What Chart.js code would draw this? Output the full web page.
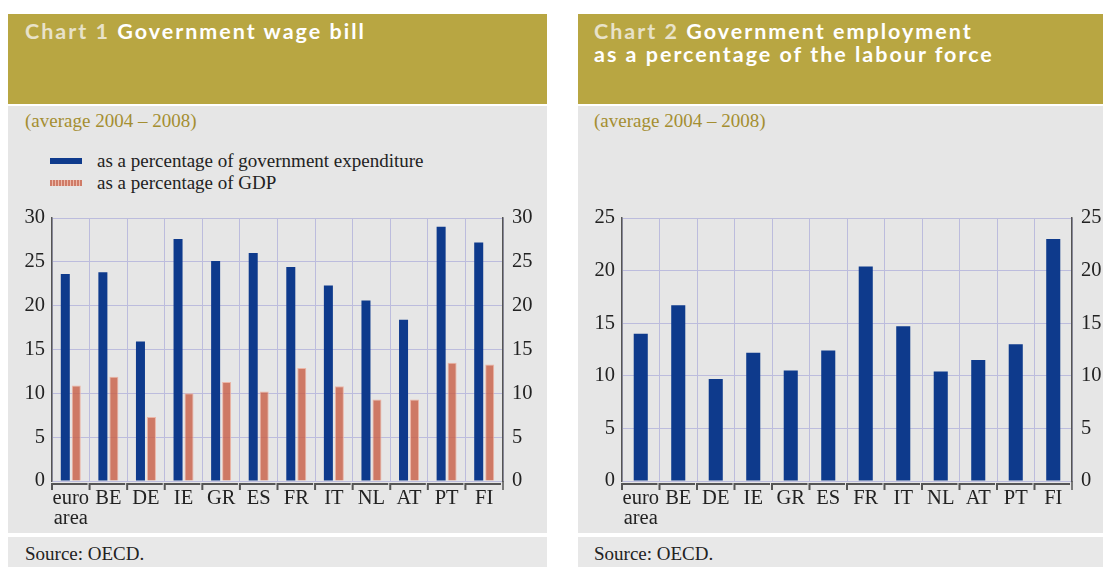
<!DOCTYPE html>
<html>
<head>
<meta charset="utf-8">
<script src="https://cdn.jsdelivr.net/npm/chart.js@4"></script>
<style>
  body { margin: 0; width: 1103px; height: 567px; background: #fff; position: relative; overflow: hidden; }
  .box { position: absolute; }
  .head { background: #b8a642; }
  .body { background: #e6e6e6; }
  .src { background: #e8e8e8; }
  .title { position: absolute; font-family: Lato, sans-serif; font-weight: bold; font-size: 21.5px;
           line-height: 23px; letter-spacing: 2px; color: #fff; white-space: nowrap; }
  .title .num { color: #e8e2c9; }
  .serif { position: absolute; font-family: "Liberation Serif", serif; font-size: 19px; line-height: 22px;
           color: #222; white-space: nowrap; }
  .sub { color: #a48e31; }
  .swatch { position: absolute; width: 32px; height: 6px; }
  canvas { position: absolute; }
</style>
</head>
<body>
<!-- chart 1 panel -->
<div class="box head" style="left:8px;top:14px;width:539px;height:90px"></div>
<div class="box body" style="left:8px;top:106px;width:539px;height:427px"></div>
<div class="box src" style="left:8px;top:537px;width:539px;height:30px"></div>
<div class="title" style="left:25px;top:20px"><span class="num">Chart 1</span> Government wage bill</div>
<div class="serif sub" style="left:25px;top:110px">(average 2004 – 2008)</div>
<div class="swatch" style="left:50px;top:158px;background:#0e3a8c"></div>
<div class="serif" style="left:97px;top:150px">as a percentage of government expenditure</div>
<div class="swatch" style="left:50px;top:180px;background:repeating-linear-gradient(90deg,#cf7b67 0 2px,#ecb9aa 2px 3px)"></div>
<div class="serif" style="left:97px;top:172px">as a percentage of GDP</div>
<div class="serif" style="left:25px;top:543px">Source: OECD.</div>
<canvas id="wageBill" width="539" height="337" style="left:8px;top:196px"></canvas>

<!-- chart 2 panel -->
<div class="box head" style="left:578px;top:14px;width:525px;height:90px"></div>
<div class="box body" style="left:578px;top:106px;width:525px;height:427px"></div>
<div class="box src" style="left:578px;top:537px;width:525px;height:30px"></div>
<div class="title" style="left:594px;top:20px"><span class="num">Chart 2</span> Government employment<br>as a percentage of the labour force</div>
<div class="serif sub" style="left:594px;top:110px">(average 2004 – 2008)</div>
<div class="serif" style="left:594px;top:543px">Source: OECD.</div>
<canvas id="govEmployment" width="525" height="337" style="left:578px;top:196px"></canvas>

<script>
// === DATOS ===
const categories = [["euro", "area"], "BE", "DE", "IE", "GR", "ES", "FR", "IT", "NL", "AT", "PT", "FI"];
const wagePctExpenditure = [23.6, 23.8, 15.9, 27.6, 25.1, 26.0, 24.4, 22.3, 20.6, 18.4, 29.0, 27.2];
const wagePctGdp = [10.9, 11.9, 7.3, 10.0, 11.3, 10.2, 12.9, 10.8, 9.3, 9.3, 13.5, 13.3];
const employmentPctLabour = [14.0, 16.7, 9.7, 12.2, 10.5, 12.4, 20.4, 14.7, 10.4, 11.5, 13.0, 23.0];
const wageAxisMax = 30;
const employmentAxisMax = 25;
const tickStep = 5;

const BLUE = "#0e3a8c";
const SALMON = "rgba(200, 96, 72, 0.82)";
const GRID = "#bcbcdd";
const AXIS = "#555";
const serifFont = { family: "'Liberation Serif', serif", size: 20.5 };

// brackets under each category, like the printed charts
const bracketPlugin = {
  id: "brackets",
  afterDraw(chart) {
    const x = chart.scales.x;
    const ctx = chart.ctx;
    const bottom = chart.chartArea.bottom;
    const step = x.width / x.ticks.length;
    const y = bottom + 3;
    ctx.save();
    ctx.strokeStyle = AXIS;
    ctx.lineWidth = 2;
    x.ticks.forEach((t, i) => {
      const left = x.getPixelForValue(i) - step / 2;
      ctx.beginPath();
      ctx.moveTo(left, y + 6);
      ctx.lineTo(left, y);
      ctx.lineTo(left + step - 2, y);
      ctx.stroke();
    });
    // right axis runs down to the bracket line
    ctx.lineWidth = 1.5;
    ctx.beginPath();
    ctx.moveTo(chart.chartArea.right, bottom);
    ctx.lineTo(chart.chartArea.right, y + 6);
    ctx.stroke();
    ctx.restore();
  }
};

function valueAxis(position, max, width, pad) {
  return {
    position: position,
    min: 0,
    max: max,
    afterFit: s => { s.width = width; },
    ticks: { stepSize: tickStep, font: serifFont, color: "#222", padding: pad },
    grid: { display: position === "left", color: GRID, lineWidth: 1, drawTicks: false },
    border: { color: AXIS, width: 1.5 }
  };
}

function makeChart(el, datasets, max, rightWidth, barOpts) {
  return new Chart(el, {
    type: "bar",
    data: { labels: categories, datasets: datasets },
    options: Object.assign({
      responsive: false,
      animation: false,
      layout: { padding: { top: 22 } },
      plugins: { legend: { display: false }, tooltip: { enabled: false } },
      scales: {
        x: {
          afterFit: s => { s.height = 52; },
          grid: { color: GRID, lineWidth: 1, drawTicks: false, offset: true },
          border: { display: false },
          ticks: { font: Object.assign({ lineHeight: 0.95 }, serifFont), color: "#222", padding: 8,
                   maxRotation: 0, autoSkip: false }
        },
        y: valueAxis("left", max, 44, 7),
        y2: valueAxis("right", max, rightWidth, 9)
      }
    }, barOpts),
    plugins: [bracketPlugin]
  });
}

// === CHART 1 ===
makeChart(document.getElementById("wageBill"), [
  { label: "as a percentage of government expenditure", data: wagePctExpenditure,
    backgroundColor: BLUE, yAxisID: "y" },
  { label: "as a percentage of GDP", data: wagePctGdp,
    backgroundColor: SALMON, borderColor: "rgba(236, 176, 160, 0.9)", borderWidth: 1, yAxisID: "y" }
], wageAxisMax, 44, { datasets: { bar: { categoryPercentage: 0.585, barPercentage: 0.82 } } });

// === CHART 2 ===
makeChart(document.getElementById("govEmployment"), [
  { label: "government employment", data: employmentPctLabour, backgroundColor: BLUE, yAxisID: "y" }
], employmentAxisMax, 31, { datasets: { bar: { categoryPercentage: 0.375, barPercentage: 1 } } });
</script>
</body>
</html>
